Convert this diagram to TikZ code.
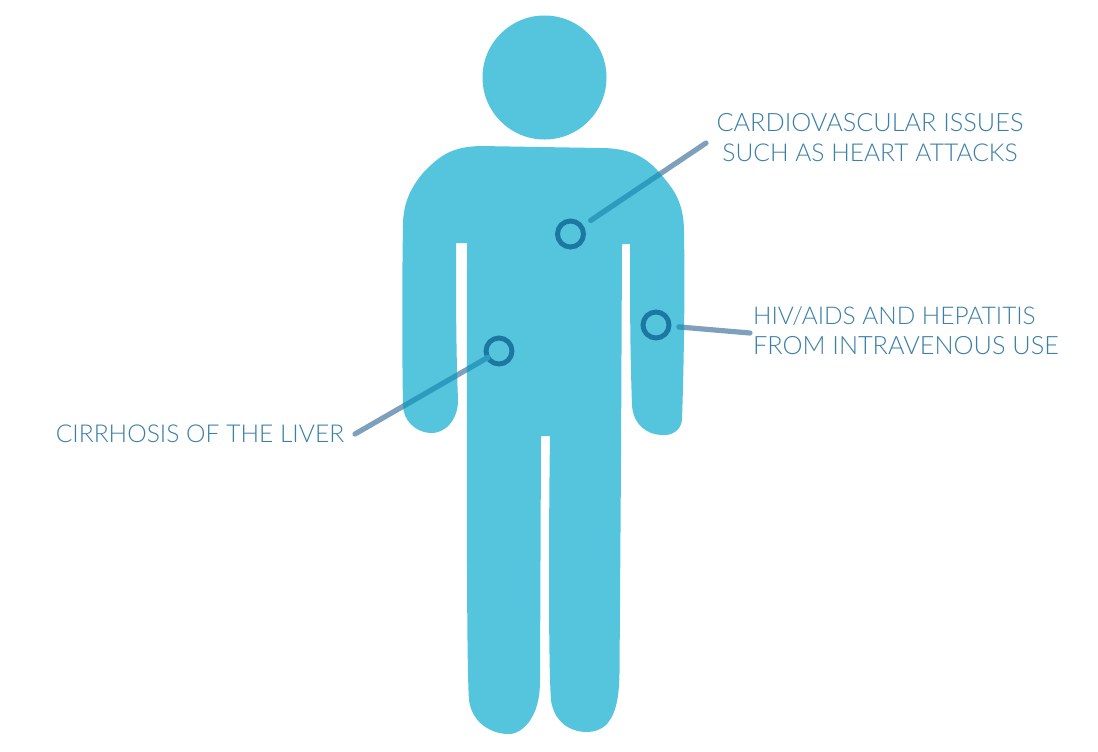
\documentclass[tikz,border=0pt]{standalone}
\usepackage{fontspec}
\newfontfamily\lblfont{Lato Light}
\definecolor{bodyc}{HTML}{55C5DE}
\definecolor{ringc}{HTML}{1B78A0}
\definecolor{linec}{HTML}{7FA0BC}
\definecolor{lineb}{HTML}{2A9CC0}
\definecolor{textc}{HTML}{3A7FA6}
\newcommand{\bodyoutline}{
  (403,225) .. controls (403,202) and (412,186) .. (423,173)
  .. controls (440,155) and (452,147) .. (480,146)
  -- (600,148) .. controls (630,148) and (645,157) .. (657,170)
  .. controls (672,187) and (684,200) .. (684,232)
  .. controls (685,290) and (684,360) .. (682,420)
  .. controls (681,430) and (672,436) .. (662,435)
  .. controls (648,435) and (633,425) .. (632,405)
  .. controls (630,350) and (630,300) .. (630,244)
  -- (622,244) -- (621,460) -- (619.5,673)
  .. controls (619,695) and (617,712) .. (607,724)
  .. controls (601,730) and (594,732) .. (587,732)
  .. controls (570,732) and (554,722) .. (551,700)
  .. controls (548,660) and (549,500) .. (550,436)
  -- (541,436) -- (540,680)
  .. controls (540,700) and (536,712) .. (529,722)
  .. controls (522,730) and (517,734) .. (508,734)
  .. controls (493,734) and (472,724) .. (469,700)
  .. controls (466,660) and (467,400) .. (467,243)
  -- (456,243) .. controls (456,300) and (456,350) .. (458,400)
  .. controls (458,420) and (445,434) .. (430,433)
  .. controls (415,432) and (403,420) .. (403,405)
  .. controls (402,350) and (402,280) .. (403,225) -- cycle}
\newcommand{\lblsize}[1]{\fontsize{#1}{22.5pt}\selectfont}
\tikzset{
  ring/.style={circle,draw=ringc,line width=3.7pt,minimum size=26*0.75pt,inner sep=0pt,outer sep=0pt},
  label text/.style={font=\lblfont\lblsize{18.95pt},text=textc,align=center,inner sep=0pt},
  lead/.style={line width=3.9pt,line cap=round},
}
\begin{document}
\begin{tikzpicture}[x=0.75pt,y=-0.75pt]
\useasboundingbox (0,0) rectangle (1098,751);
\fill[white] (0,0) rectangle (1098,751);
\node[circle,fill=bodyc,minimum size=124*0.75pt,inner sep=0pt] (head) at (544.5,77.5) {};
\fill[bodyc] \bodyoutline;
\node[ring] (c1) at (570.5,234) {};
\node[ring] (c2) at (656,325) {};
\node[ring] (c3) at (499,351) {};
\coordinate (e1) at (706,143);
\coordinate (e2) at (750,333);
\coordinate (e3) at (355,434);
\node[label text] (t1) at (870,138) {CARDIOVASCULAR ISSUES\\\lblsize{18.45pt}SUCH AS HEART ATTACKS};
\node[label text,align=left] (t2) at (906,331) {\lblsize{18.3pt}HIV/AIDS AND HEPATITIS\\FROM INTRAVENOUS USE};
\node[label text,font=\lblfont\lblsize{18.45pt}] (t3) at (200,434) {CIRRHOSIS OF THE LIVER};
\draw[lead,linec,shorten <=8.5pt] (c1) -- (e1);
\draw[lead,linec,shorten <=7.5pt] (c2) -- (e2);
\draw[lead,linec] (c3) -- (e3);
\begin{scope}
\clip \bodyoutline;
\draw[lead,lineb,shorten <=8.5pt] (c1) -- (e1);
\draw[lead,lineb,shorten <=7.5pt] (c2) -- (e2);
\draw[lead,lineb] (c3) -- (e3);
\end{scope}
\end{tikzpicture}
\end{document}
